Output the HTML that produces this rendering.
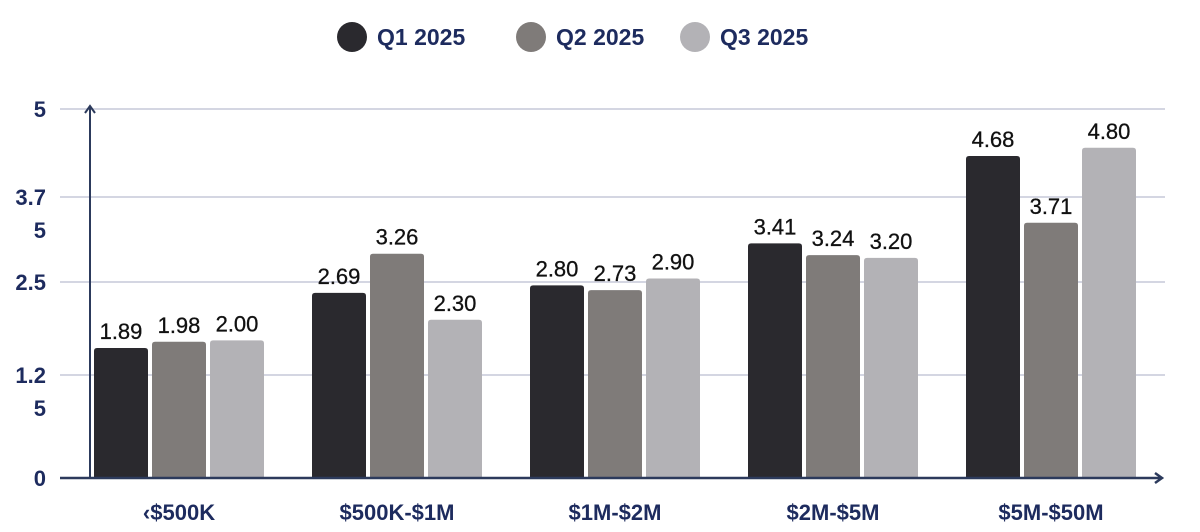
<!DOCTYPE html>
<html><head><meta charset="utf-8"><style>
body{margin:0;background:#fff;width:1200px;height:532px;overflow:hidden;font-family:"Liberation Sans",sans-serif}
.leg{position:absolute;top:22px;display:flex;align-items:center;font-weight:bold;font-size:23px;color:#1d2b5e}
.dot{width:30px;height:30px;border-radius:50%;margin-right:10px}
</style></head><body>
<div class="leg" style="left:337px"><div class="dot" style="background:#2a292e"></div>Q1 2025</div>
<div class="leg" style="left:516px"><div class="dot" style="background:#7f7b79"></div>Q2 2025</div>
<div class="leg" style="left:680px"><div class="dot" style="background:#b3b2b6"></div>Q3 2025</div>
<svg id="c" width="1200" height="532" style="position:absolute;left:0;top:0"></svg>
<script>
const categories=["‹$500K","$500K-$1M","$1M-$2M","$2M-$5M","$5M-$50M"];
const q1=[1.89,2.69,2.80,3.41,4.68];
const q2=[1.98,3.26,2.73,3.24,3.71];
const q3=[2.00,2.30,2.90,3.20,4.80];
const ticks=[{l:["5"],y:109},{l:["3.7","5"],y:197},{l:["2.5"],y:282},{l:["1.2","5"],y:375},{l:["0"],y:478}];
const series=[q1,q2,q3];
const colors=["#2a292e","#7f7b79","#b3b2b6"];
const NS="http://www.w3.org/2000/svg";
const svg=document.getElementById('c');
const y0=478,k=68.8;
const yS=v=>y0-v*k;
const xS=(i,s)=>94+i*218+s*58;
function mk(t,a,txt){const e=document.createElementNS(NS,t);for(const n in a)e.setAttribute(n,a[n]);if(txt!=null)e.textContent=txt;svg.appendChild(e);return e;}
ticks.forEach(t=>{
 if(t.y!==478){const g=mk('line',{x1:60,x2:1165,y1:t.y,y2:t.y,stroke:'#d4d6e2','stroke-width':2});
 
 }
 t.l.forEach((s,j)=>{const tx=mk('text',{x:46,y:t.y+8+j*33,'text-anchor':'end','font-size':22,'font-weight':'bold',fill:'#1d2b5e'},s);
 
 });
});
series.forEach((ser,s)=>ser.forEach((v,i)=>{
 const x=xS(i,s),y=yS(v);
 const r=mk('path',{d:`M${x},${y0} V${y+3} Q${x},${y} ${x+3},${y} H${x+51} Q${x+54},${y} ${x+54},${y+3} V${y0} Z`,fill:colors[s]});
 
 
 const t=mk('text',{x:x+27,y:y-9,'text-anchor':'middle','font-size':22,'font-weight':'500',fill:'#111',stroke:'#111','stroke-width':0.3},v.toFixed(2));
 
 
}));
categories.forEach((c,i)=>{const t=mk('text',{x:xS(i,1)+27,y:520,'text-anchor':'middle','font-size':22,'font-weight':'bold',fill:'#1d2b5e'},c);
 
 });
const ax=mk('path',{d:'M90,478 V106 M85,113 L90,106 L95,113',stroke:'#2c3a5c','stroke-width':2,fill:'none'});


const bx=mk('path',{d:'M60,478 H1162 M1155,473 L1162,478 L1155,483',stroke:'#2c3a5c','stroke-width':2.5,fill:'none'});


</script>
</body></html>
